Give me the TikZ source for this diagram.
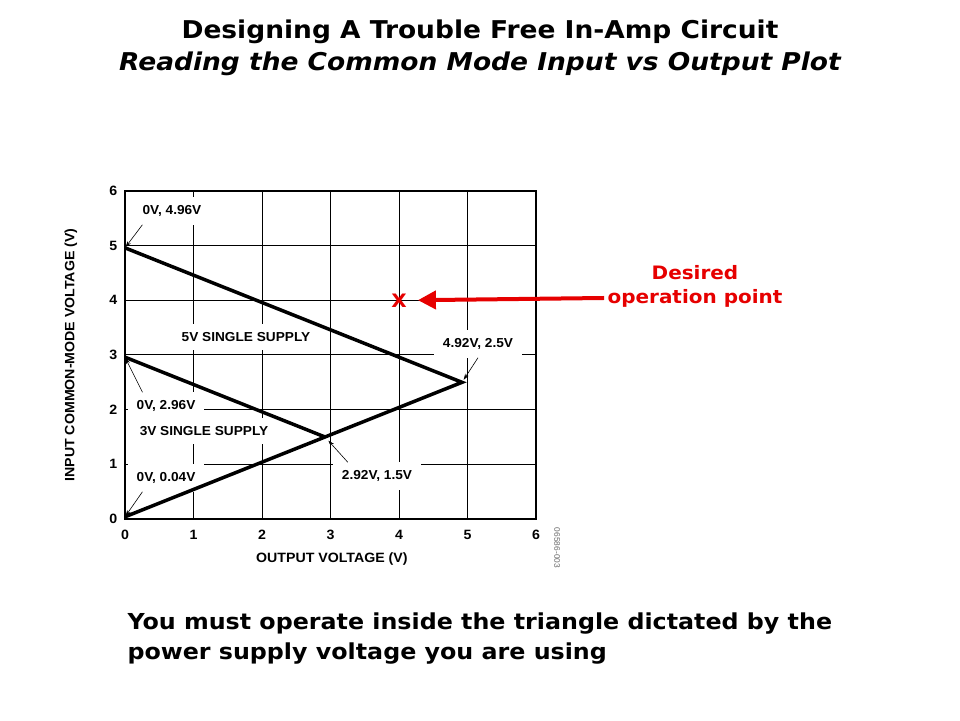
\documentclass[tikz,border=0pt]{standalone}
\usepackage{fontspec}
\setmainfont{DejaVu Sans}
\newfontfamily\slidefont[FakeStretch=1.08]{DejaVu Sans}
\newfontfamily\plotfont[FakeStretch=1.05]{Liberation Sans}
\usetikzlibrary{arrows.meta}
\definecolor{slidered}{RGB}{230,0,0}
\tikzset{
  tick/.style={font=\plotfont\bfseries\fontsize{13.5}{15}\selectfont},
  callout/.style={font=\plotfont\bfseries\fontsize{13}{15}\selectfont,fill=white,inner xsep=9pt,inner ysep=8pt},
  pointer/.style={-{Stealth[length=6pt,width=4pt]},line width=0.6pt},
  redtext/.style={text=slidered,font=\slidefont\bfseries\fontsize{18.5}{22}\selectfont},
}
\begin{document}
\begin{tikzpicture}[x=1pt,y=1pt]
\useasboundingbox (0,0) rectangle (960,720);
\node[font=\slidefont\bfseries\fontsize{24.5}{28}\selectfont] (title) at (480,688) {Designing A Trouble Free In-Amp Circuit};
\node[font=\slidefont\bfseries\itshape\fontsize{24.5}{28}\selectfont] (subtitle) at (480,656) {Reading the Common Mode Input vs Output Plot};
% plot, one unit per volt
\begin{scope}[shift={(125,201)},x=68.5pt,y=54.67pt]
\foreach\i in {1,...,5}{
 \draw[line width=1pt] (\i,0) -- (\i,6);
 \draw[line width=1pt] (0,\i) -- (6,\i);
}
\foreach\i in {0,...,6}{
 \node[tick] (xt\i) at (\i,-0.29) {\i};
 \node[tick] (yt\i) at (-0.17,\i) {\i};
}
\node[tick] (xlabel) at (3.02,-0.73) {OUTPUT VOLTAGE (V)};
\node[tick,rotate=90] (ylabel) at (-0.79,3) {INPUT COMMON-MODE VOLTAGE (V)};
\node[font=\plotfont\fontsize{8}{9}\selectfont,text=black!60,rotate=-90] (code) at (6.31,-0.53) {06586-003};
\coordinate (p496) at (0,4.96);
\coordinate (p296) at (0,2.96);
\coordinate (p004) at (0,0.04);
\coordinate (p292) at (2.92,1.5);
\coordinate (p492) at (4.92,2.5);
\node[callout] (lbl496) at (0.686,5.634) {0V, 4.96V};
\node[callout] (lbl5V) at (1.766,3.329) {5V SINGLE SUPPLY};
\node[callout] (lbl492) at (5.153,3.201) {4.92V, 2.5V};
\node[callout] (lbl296) at (0.599,2.067) {0V, 2.96V};
\node[callout] (lbl3V) at (1.153,1.610) {3V SINGLE SUPPLY};
\node[callout] (lbl004) at (0.599,0.750) {0V, 0.04V};
\node[callout] (lbl292) at (3.679,0.787) {2.92V, 1.5V};
\draw[pointer,shorten >=1pt] ([xshift=9pt]lbl496.south west) -- (p496);
\draw[pointer,shorten >=1pt] ([xshift=15pt]lbl296.north west) -- (p296);
\draw[pointer,shorten >=1pt] ([xshift=15pt]lbl004.south west) -- (p004);
\draw[pointer,shorten >=5pt] ([xshift=15pt]lbl292.north west) -- (p292);
\draw[pointer,shorten >=3pt] (lbl492.south) -- (p492);
\draw[line width=3.5pt] (p496) -- (p492) -- (p004);
\draw[line width=3.5pt] (p296) -- (p292);
\draw[line width=2.5pt] (0,0) rectangle (6,6);
\node[redtext,inner sep=0pt] (xmark) at (4,4) {X};
\end{scope}
\node[redtext] (desired) at (695,447) {Desired};
\node[redtext] (oppoint) at (695,422) {operation point};
\draw[slidered,line width=4pt,-{Triangle[length=18pt,width=18pt]},shorten >=11pt] (oppoint.west) -- (xmark.east);
\node[anchor=north west,align=left,font=\slidefont\bfseries\fontsize{22}{30}\selectfont] (note) at (124,111) {You must operate inside the triangle dictated by the\\power supply voltage you are using};
\end{tikzpicture}
\end{document}
